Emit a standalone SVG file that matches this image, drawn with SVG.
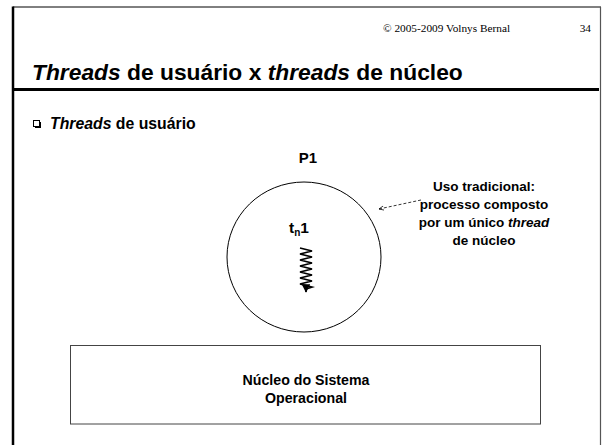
<svg xmlns="http://www.w3.org/2000/svg" width="602" height="445" viewBox="0 0 602 445">
<defs>
<style>
.b{font-family:"Liberation Sans",Arial,sans-serif;font-weight:bold;fill:#000}
.i{font-style:italic}
.c{text-anchor:middle}
.tm{font-family:"Liberation Serif","Times New Roman",serif;fill:#000;font-size:11.3px}
</style>
<marker id="ah" viewBox="0 0 10 10" refX="9" refY="5" markerWidth="7" markerHeight="7" orient="auto">
<path d="M0,1 L9,5 L0,9" fill="none" stroke="#000" stroke-width="1.3"/>
</marker>
<marker id="ah2" viewBox="0 0 10 10" refX="9" refY="5" markerWidth="5" markerHeight="5" orient="auto">
<path d="M0,0 L10,5 L0,10 z" fill="#000"/>
</marker>
</defs>
<rect width="602" height="445" fill="#fff"/>
<g id="frame">
<line x1="13" y1="7" x2="601" y2="7" stroke="#000" stroke-width="1"/>
<line x1="13" y1="6.5" x2="13" y2="445" stroke="#000" stroke-width="2.5"/>
<line x1="600.5" y1="7" x2="600.5" y2="445" stroke="#555" stroke-width="1.2"/>
<line x1="13" y1="89.5" x2="599" y2="89.5" stroke="#000" stroke-width="3"/>
</g>
<g id="header">
<text class="tm" x="383" y="32">© 2005-2009 Volnys  Bernal</text>
<text class="tm" x="591" y="32" text-anchor="end">34</text>
<text class="b" x="32" y="80" font-size="22.8"><tspan class="i">Threads</tspan> de usuário x <tspan class="i">threads</tspan> de núcleo</text>
</g>
<g id="bullet">
<rect x="33.5" y="120.5" width="6" height="6" fill="none" stroke="#000" stroke-width="1"/>
<line x1="35" y1="127.5" x2="40.5" y2="127.5" stroke="#000" stroke-width="1"/>
<line x1="40.5" y1="122" x2="40.5" y2="128" stroke="#000" stroke-width="1"/>
<text class="b" x="50" y="129" font-size="15.8"><tspan class="i">Threads</tspan> de usuário</text>
</g>
<g id="p1">
<text class="b c" x="308" y="163" font-size="15">P1</text>
<ellipse cx="304" cy="257" rx="77" ry="75" fill="none" stroke="#000" stroke-width="1"/>
<text class="b" x="289" y="233" font-size="15.5">t<tspan font-size="10" dy="3">n</tspan><tspan dy="-3">1</tspan></text>
</g>
<g id="thread">
<polyline points="300,248 312,251 300,254 312,257 300,260 312,263 300,266 312,269 300,272 312,275 300,278 312,281 300,284 312,287 306,289 306,292" fill="none" stroke="#000" stroke-width="1.7" marker-end="url(#ah2)"/>
</g>
<g id="nucleo">
<rect x="70.5" y="345.5" width="470" height="78.5" fill="none" stroke="#444" stroke-width="1"/>
<text class="b c" x="306" y="385" font-size="14.2">Núcleo do Sistema</text>
<text class="b c" x="306" y="403" font-size="14.2">Operacional</text>
</g>
<g id="annotation">
<text class="b c" x="484" y="191" font-size="13.5">Uso tradicional:</text>
<text class="b c" x="484" y="209" font-size="13.5">processo composto</text>
<text class="b c" x="484" y="227" font-size="13.5">por um único <tspan class="i">thread</tspan></text>
<text class="b c" x="484" y="245" font-size="13.5">de núcleo</text>
</g>
<g id="connectors">
<line x1="421" y1="200" x2="379" y2="209" stroke="#000" stroke-width="0.8" stroke-dasharray="3,2" marker-end="url(#ah)"/>
</g>
</svg>
